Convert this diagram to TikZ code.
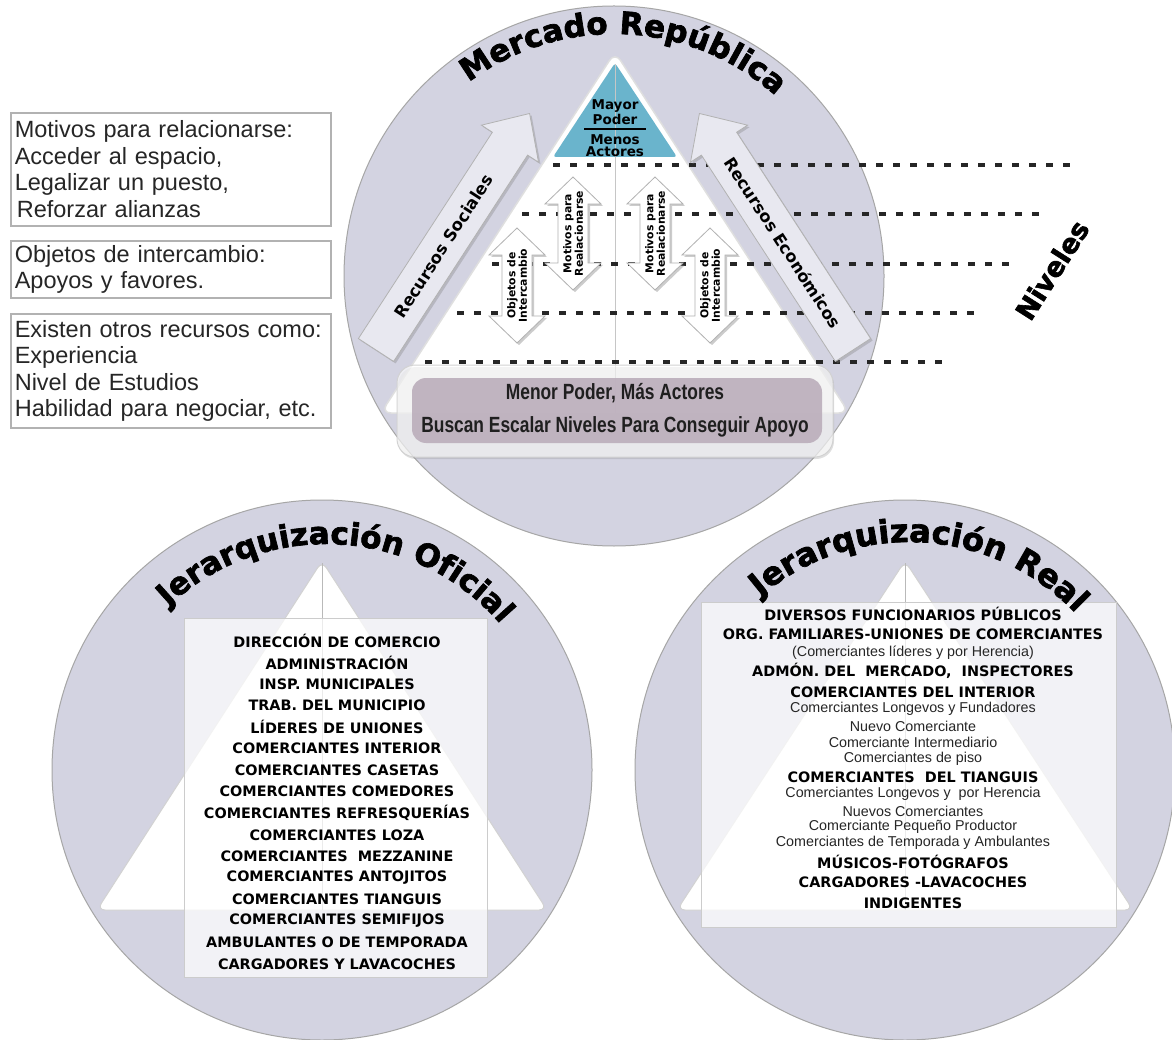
\documentclass[tikz,border=0pt]{standalone}
\usepackage{fontspec}
\usepackage{graphicx}
\usetikzlibrary{decorations.text,shadows}
\setmainfont{Liberation Sans}
\newfontfamily\djv{DejaVu Sans}
\newfontfamily\djvt[FakeBold=2.2]{DejaVu Sans}
\newcommand\HB[2]{\djv\bfseries\fontsize{#1}{#2}\selectfont}
\newcommand\HT[1]{\djvt\bfseries\fontsize{#1}{#1}\selectfont}
\newcommand\RG[2]{\fontsize{#1}{#2}\selectfont}
\definecolor{circfill}{RGB}{211,211,225}
\definecolor{arrfill}{RGB}{232,232,240}
\definecolor{purp}{RGB}{186,172,186}
\definecolor{topblue}{RGB}{106,180,204}
% vertical double arrow: #1 name, #2 cx, #3 top y, #4 bottom y, #5 #6 text lines
\newcommand\vdarr[6]{%
  \path[smarrow] (#2,-#3) -- (#2+28,-#3-27) -- (#2+15,-#3-27) -- (#2+15,-#4+27) -- (#2+28,-#4+27)
     -- (#2,-#4) -- (#2-28,-#4+27) -- (#2-15,-#4+27) -- (#2-15,-#3-27) -- (#2-28,-#3-27) -- cycle;
  \node[rotate=90, align=center, font=\HB{10.8}{11.5}, inner sep=0] (#1) at (#2,{-(#3+#4)/2}) {#5\\#6};}
\begin{document}
\begin{tikzpicture}[x=1pt,y=1pt,
  circnode/.style={circle, fill=circfill, draw=gray!70, line width=1, minimum size=540, inner sep=0},
  tri/.style={fill=white, draw=gray!35, line width=1, rounded corners=8},
  vline/.style={draw=gray!55, line width=0.9},
  hbox/.style={fill=white, fill opacity=0.72, draw=gray!40, line width=0.8},
  rb/.style={font=\HB{14.4}{14.4}, inner sep=0},
  rr/.style={font=\RG{14.3}{14.3}, text=black!85, inner sep=0},
  dashline/.style={draw=black!85, line width=3.3, dash pattern=on 7pt off 10pt},
  bigarrow/.style={fill=arrfill, draw=gray!60, line width=0.8, drop shadow={shadow xshift=2pt, shadow yshift=-2pt, opacity=.35}},
  smarrow/.style={fill=white, draw=gray!60, line width=0.8, drop shadow={shadow xshift=2pt, shadow yshift=-2pt, opacity=.4}},
  tbox/.style={draw=gray!60, line width=1.6, fill=white, anchor=north west, inner xsep=4, inner ysep=0,
     text width=312, align=left, font=\RG{23.5}{26.5}, text=black!85,
     drop shadow={shadow xshift=1.5pt, shadow yshift=-1.5pt, opacity=.75}}
]
\useasboundingbox (0,0) rectangle (1172,-1040);
\fill[white] (0,0) rectangle (1172,-1040);

% ---------------- bottom-left circle ----------------
\node[circnode] (cL) at (322,-770) {};
\path[tri] (322,-561) -- (547,-910) -- (97,-910) -- cycle;
\draw[vline] (322,-563) -- (322,-910);
\path[hbox] (184,-618) rectangle (487,-977);
\path[decorate, decoration={text along path, text align=center,
   text={|\HT{31}|Jerarquización Oficial}}]
   (326,-774) ++(140:230) arc[start angle=140, end angle=34, radius=230];
\foreach \t [count=\i] in {DIRECCIÓN DE COMERCIO, ADMINISTRACIÓN, INSP. MUNICIPALES,
   TRAB. DEL MUNICIPIO, LÍDERES DE UNIONES, COMERCIANTES INTERIOR, COMERCIANTES CASETAS,
   COMERCIANTES COMEDORES, COMERCIANTES REFRESQUERÍAS, COMERCIANTES LOZA,
   COMERCIANTES\ \ MEZZANINE, COMERCIANTES ANTOJITOS, COMERCIANTES TIANGUIS,
   COMERCIANTES SEMIFIJOS, AMBULANTES O DE TEMPORADA, CARGADORES Y LAVACOCHES}
  \node[rb] (L\i) at (337,{-641-21.53*(\i-1)}) {\t};

% ---------------- bottom-right circle ----------------
\node[circnode] (cR) at (905,-770) {};
\path[tri] (905,-561) -- (1133,-910) -- (677,-910) -- cycle;
\draw[vline] (905,-563) -- (905,-910);
\path[hbox] (701,-602) rectangle (1116,-927);
\path[decorate, decoration={text along path, text align=center,
   text={|\HT{32}|Jerarquización Real}}]
   (909,-772) ++(135:230) arc[start angle=135, end angle=39, radius=230];
\node[rb] (r1) at (913,-614) {DIVERSOS FUNCIONARIOS PÚBLICOS};
\node[rb] (r2) at (913,-634) {ORG. FAMILIARES-UNIONES DE COMERCIANTES};
\node[rr] (r3) at (913,-653) {(Comerciantes líderes y por Herencia)};
\node[rb] (r4) at (913,-671) {ADMÓN. DEL\ \ MERCADO,\ \ INSPECTORES};
\node[rb] (r5) at (913,-692) {COMERCIANTES DEL INTERIOR};
\node[rr] (r6) at (913,-709) {Comerciantes Longevos y Fundadores};
\node[rr] (r7) at (913,-726) {Nuevo Comerciante};
\node[rr] (r8) at (913,-742) {Comerciante Intermediario};
\node[rr] (r9) at (913,-759) {Comerciantes de piso};
\node[rb] (r10) at (913,-777) {COMERCIANTES\ \ DEL TIANGUIS};
\node[rr] (r11) at (913,-794) {Comerciantes Longevos y\ \ por Herencia};
\node[rr] (r12) at (913,-811) {Nuevos Comerciantes};
\node[rr] (r13) at (913,-827) {Comerciante Pequeño Productor};
\node[rr] (r14) at (913,-843) {Comerciantes de Temporada y Ambulantes};
\node[rb] (r15) at (913,-862) {MÚSICOS-FOTÓGRAFOS};
\node[rb] (r16) at (913,-882) {CARGADORES -LAVACOCHES};
\node[rb] (r17) at (913,-903) {INDIGENTES};

% ---------------- top circle ----------------
\node[circnode] (cT) at (614,-276) {};
\path[tri, rounded corners=10, draw=gray!25, line width=1.5] (615,-52) -- (849,-413) -- (381,-413) -- cycle;
\path[fill=topblue, rounded corners=3] (615,-63) -- (677,-157) -- (553,-157) -- cycle;
\draw[vline, draw=gray!45] (615,-64) -- (615,-413);
\path[decorate, decoration={text along path, text align=center,
   text={|\HT{31}|Mercado República}}]
   (614,-276) ++(130:242) arc[start angle=130, end angle=45, radius=242];

\node[font=\HB{13.5}{13.5}, inner sep=0] (mp1) at (615,-106) {Mayor};
\node[font=\HB{13.5}{13.5}, inner sep=0] (mp2) at (615,-119) {Poder};
\draw[line width=2] (584,-129) -- (646,-129);
\node[font=\HB{13.5}{13.5}, inner sep=0] (mp3) at (615,-140) {Menos};
\node[font=\HB{13.5}{13.5}, inner sep=0] (mp4) at (615,-152) {Actores};

% level lines
\draw[dashline] (553,-165) -- (1080,-165);
\draw[dashline] (522,-214) -- (1048,-214);
\draw[dashline] (492,-264) -- (1017,-264);
\draw[dashline] (457,-313) -- (983,-313);
\draw[dashline] (425,-362) -- (952,-362);

% big arrows
\begin{scope}[shift={(376,-350)}, rotate=57]
  \path[bigarrow] (0,-21) -- (246,-21) -- (246,-34) -- (282,0) -- (246,34) -- (246,21) -- (0,21) -- cycle;
  \node[rotate=57, font=\HB{16.5}{16.5}] (rs) at (124,0) {Recursos Sociales};
\end{scope}
\begin{scope}[shift={(853,-350)}, rotate=123]
  \path[bigarrow] (0,-21) -- (246,-21) -- (246,-34) -- (282,0) -- (246,34) -- (246,21) -- (0,21) -- cycle;
  \node[rotate=-57, font=\HB{16.5}{16.5}] (re) at (128,0) {Recursos Económicos};
\end{scope}

% small double arrows
\vdarr{a1}{517}{228}{343}{Objetos de}{Intercambio}
\vdarr{a2}{573}{177}{290}{Motivos para}{Realacionarse}
\vdarr{a3}{655}{177}{290}{Motivos para}{Realacionarse}
\vdarr{a4}{710}{228}{343}{Objetos de}{Intercambio}

% bottom box
\node[fill=white, fill opacity=0.65, draw=gray!35, line width=1, rounded corners=18,
      minimum width=436, minimum height=92, inner sep=0,
      drop shadow={shadow xshift=1pt, shadow yshift=-2pt, opacity=.25}] (bbo) at (615,-411) {};
\node[fill=purp, fill opacity=0.88, rounded corners=14, minimum width=410, minimum height=65, inner sep=0] (bbi) at (617,-410.5) {};
\node[inner sep=0, text=black!88] (bt1) at (615,-393) {\scalebox{0.79}[1]{\bfseries\RG{22}{22}Menor Poder, Más Actores}};
\node[inner sep=0, text=black!88] (bt2) at (615,-427) {\scalebox{0.79}[1]{\bfseries\RG{22}{22}Buscan Escalar Niveles Para Conseguir Apoyo}};

% Niveles
\node[rotate=57.5, font=\HT{27}] (niv) at (1052,-270) {Niveles};

% left text boxes
\node[tbox, minimum height=113] (t1) at (10,-112) {Motivos para relacionarse:\\Acceder al espacio,\\Legalizar un puesto,\\\hspace*{2pt}Reforzar alianzas};
\node[tbox, minimum height=57] (t2) at (10,-240) {Objetos de intercambio:\\Apoyos y favores.};
\node[tbox, minimum height=114] (t3) at (10,-313) {Existen otros recursos como:\\Experiencia\\Nivel de Estudios\\Habilidad para negociar, etc.};
\end{tikzpicture}
\end{document}
